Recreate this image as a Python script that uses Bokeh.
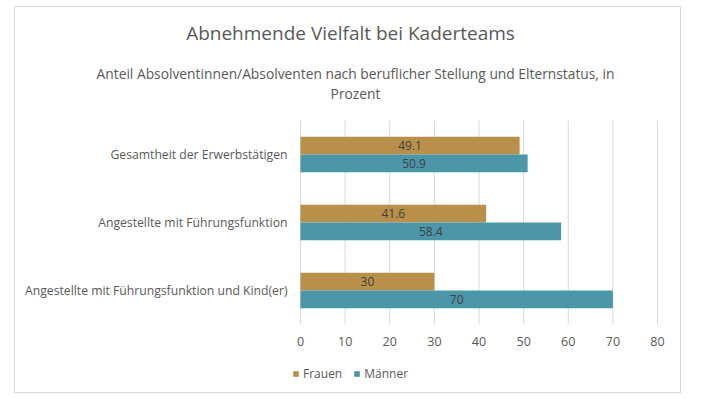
from bokeh.plotting import figure
from bokeh.models import (Range1d, ColumnDataSource, Label, Legend, LegendItem)
from bokeh.core.properties import value
from bokeh.embed import file_html
from bokeh.resources import INLINE

# ---- data ----
categories = ["Gesamtheit der Erwerbstätigen",
              "Angestellte mit Führungsfunktion",
              "Angestellte mit Führungsfunktion und Kind(er)"]
frauen = [49.1, 41.6, 30]
maenner = [50.9, 58.4, 70]
series_names = ["Frauen", "Männer"]
x_ticks = [0, 10, 20, 30, 40, 50, 60, 70, 80]

title_text = "Abnehmende Vielfalt bei Kaderteams"
subtitle_lines = ["Anteil Absolventinnen/Absolventen nach beruflicher Stellung und Elternstatus, in",
                  "Prozent"]

# ---- style / layout ----
FONT = "Open Sans"
C_F = "#B8904A"
C_M = "#4B96A8"
TXT = "#595959"
GRID = "#d9d9d9"
W, H = 667, 387
PLOT_L, PLOT_R = 285, 642      # pixel extent of the value axis (0 .. max tick)
PLOT_T, PLOT_B = 113, 317      # pixel extent of the category band
BAR_H = 0.26

n = len(categories)
x_max = x_ticks[-1]
ppu_x = (PLOT_R - PLOT_L) / x_max
ppu_y = (PLOT_B - PLOT_T) / n
x_range = Range1d(-PLOT_L / ppu_x, x_max + (W - PLOT_R) / ppu_x)
y_range = Range1d(-0.5 - (H - PLOT_B) / ppu_y, n - 0.5 + PLOT_T / ppu_y)

# categories from top to bottom -> positions n-1 .. 0
pos = [n - 1 - i for i in range(n)]
src = ColumnDataSource(dict(
    cat=categories, pos=pos,
    pos_f=[y + BAR_H / 2 for y in pos],
    pos_m=[y - BAR_H / 2 for y in pos],
    frauen=frauen, maenner=maenner,
    frauen_mid=[v / 2 for v in frauen],
    maenner_mid=[v / 2 for v in maenner],
    frauen_lbl=[f"{v:g}" for v in frauen],
    maenner_lbl=[f"{v:g}" for v in maenner],
))
tick_src = ColumnDataSource(dict(
    x=x_ticks, lbl=[str(t) for t in x_ticks],
    y0=[-0.5] * len(x_ticks), y1=[n - 0.5] * len(x_ticks)))

p = figure(width=W, height=H, x_range=x_range, y_range=y_range,
           x_axis_type=None, y_axis_type=None, output_backend="svg",
           toolbar_location=None, min_border=0)
p.outline_line_color = None
p.grid.grid_line_color = None
p.styles = {"border": "1px solid #d9d9d9", "margin-left": "14px", "margin-top": "6px"}

# vertical grid lines over the category band
p.segment(x0="x", x1="x", y0="y0", y1="y1", source=tick_src, line_color=GRID, line_width=1)

# bars
rf = p.hbar(y="pos_f", left=0, right="frauen", height=BAR_H, source=src,
            fill_color=C_F, line_color=None)
rm = p.hbar(y="pos_m", left=0, right="maenner", height=BAR_H, source=src,
            fill_color=C_M, line_color=None)

# value labels
p.text(x="frauen_mid", y="pos_f", text="frauen_lbl", source=src, text_align="center",
       text_baseline="middle", text_font=value(FONT), text_font_size="12px", text_color="#404040")
p.text(x="maenner_mid", y="pos_m", text="maenner_lbl", source=src, text_align="center",
       text_baseline="middle", text_font=value(FONT), text_font_size="12px", text_color="#404040")

# category axis labels
p.text(x=0, y="pos", text="cat", source=src, x_offset=-13, text_align="right",
       text_baseline="middle", text_font=value(FONT), text_font_size="12.2px", text_color=TXT)

# value axis tick labels
p.text(x="x", y="y0", text="lbl", source=tick_src, y_offset=17, text_align="center",
       text_baseline="middle", text_font=value(FONT), text_font_size="12.5px", text_color=TXT)

# titles (screen units from bottom-left of the canvas)
p.add_layout(Label(x=335, y=361.5, x_units="screen", y_units="screen", text=title_text,
                   text_align="center", text_baseline="middle", text_font=FONT,
                   text_font_size="19px", text_color=TXT))
p.add_layout(Label(x=340, y=321.5, x_units="screen", y_units="screen", text=subtitle_lines[0],
                   text_align="center", text_baseline="middle", text_font=FONT,
                   text_font_size="13.8px", text_color=TXT))
p.add_layout(Label(x=340, y=301, x_units="screen", y_units="screen", text=subtitle_lines[1],
                   text_align="center", text_baseline="middle", text_font=FONT,
                   text_font_size="13.8px", text_color=TXT))

legend = Legend(items=[LegendItem(label=series_names[0], renderers=[rf]),
                       LegendItem(label=series_names[1], renderers=[rm])],
                orientation="horizontal", location=(277, 12),
                padding=0, margin=0, spacing=11, label_standoff=4,
                glyph_width=7, glyph_height=7, label_height=14,
                border_line_color=None, background_fill_alpha=0,
                label_text_font=FONT, label_text_font_size="12px", label_text_color=TXT)
p.add_layout(legend)

open("out.html", "w").write(file_html(p, INLINE))
